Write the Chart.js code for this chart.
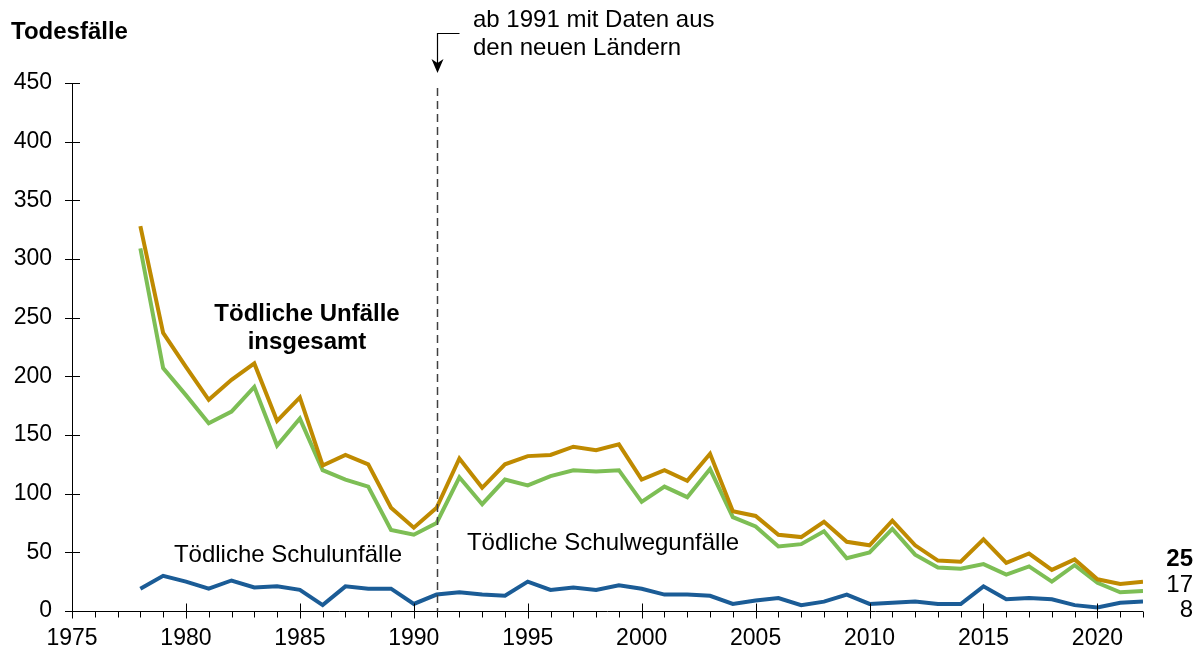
<!DOCTYPE html>
<html lang="de">
<head>
<meta charset="utf-8">
<title>Todesfälle bei Schul- und Schulwegunfällen</title>
<script src="https://cdn.jsdelivr.net/npm/chart.js@4/dist/chart.umd.min.js"></script>
<style>
  html, body { margin: 0; padding: 0; background: #fff; }
  #wrap { position: relative; width: 1203px; height: 655px; }
</style>
</head>
<body>
<div id="wrap"><canvas id="todesfaelleChart" width="1203" height="655"></canvas></div>
<script>
// Jahre 1978 bis 2022
const years = [];
for (let y = 1978; y <= 2022; y++) years.push(y);

// Tödliche Unfälle insgesamt
const insgesamt = [
  328, 237, 208, 180, 197, 211, 162, 182, 124, 133,
  125, 88, 71, 88, 130, 105, 125, 132, 133, 140,
  137, 142, 112, 120, 111, 134, 85, 81, 65, 63,
  76, 59, 56, 77, 56, 43, 42, 61, 41, 49,
  35, 44, 27, 23, 25
];
// Tödliche Schulwegunfälle
const schulweg = [
  309, 207, 184, 160, 170, 191, 141, 164, 120, 112,
  106, 69, 65, 75, 114, 91, 112, 107, 115, 120,
  119, 120, 93, 106, 97, 121, 80, 72, 55, 57,
  68, 45, 50, 70, 48, 37, 36, 40, 31, 38,
  25, 39, 24, 16, 17
];
// Tödliche Schulunfälle
const schule = [
  19, 30, 25, 19, 26, 20, 21, 18, 5, 21,
  19, 19, 6, 14, 16, 14, 13, 25, 18, 20,
  18, 22, 19, 14, 14, 13, 6, 9, 11, 5,
  8, 14, 6, 7, 8, 6, 6, 21, 10, 11,
  10, 5, 3, 7, 8
];

const yTicks = [0, 50, 100, 150, 200, 250, 300, 350, 400, 450];
const xTicks = [1975, 1980, 1985, 1990, 1995, 2000, 2005, 2010, 2015, 2020];

const FONT = '"Liberation Sans", Arial, sans-serif';

const toPoints = arr => arr.map((v, i) => ({ x: years[i], y: v }));

// Achsen, Jahresstriche, Trennlinie 1991 und Beschriftungen
const annotations = {
  id: 'annotations',
  afterDraw(chart) {
    const { ctx, chartArea: a, scales: { x, y } } = chart;
    ctx.save();
    ctx.strokeStyle = '#000';
    ctx.lineWidth = 1;

    // y-Achse mit Strichen
    ctx.beginPath();
    ctx.moveTo(a.left + 0.5, y.getPixelForValue(450));
    ctx.lineTo(a.left + 0.5, y.getPixelForValue(0));
    yTicks.forEach(v => {
      const py = Math.round(y.getPixelForValue(v)) + 0.5;
      ctx.moveTo(a.left - 7, py);
      ctx.lineTo(a.left + 8, py);
    });
    ctx.stroke();

    // x-Achse: Jahresstriche unten, Fünfjahresstriche durchgehend
    const base = Math.round(y.getPixelForValue(0)) + 0.5;
    ctx.beginPath();
    ctx.moveTo(x.getPixelForValue(1975), base);
    ctx.lineTo(x.getPixelForValue(2022), base);
    for (let yr = 1975; yr <= 2022; yr++) {
      const px = Math.round(x.getPixelForValue(yr)) + 0.5;
      if (yr % 5 === 0) {
        ctx.moveTo(px, base - 8);
        ctx.lineTo(px, base + 7);
      } else {
        ctx.moveTo(px, base);
        ctx.lineTo(px, base + 6);
      }
    }
    ctx.stroke();

    // gestrichelte Linie 1991
    const x91 = Math.round(x.getPixelForValue(1991)) + 0.5;
    ctx.strokeStyle = '#404040';
    ctx.lineWidth = 1.5;
    ctx.setLineDash([8, 5]);
    ctx.beginPath();
    ctx.moveTo(x91, 88);
    ctx.lineTo(x91, base);
    ctx.stroke();
    ctx.setLineDash([]);

    // Pfeil zur Anmerkung
    ctx.strokeStyle = '#000';
    ctx.lineWidth = 1.2;
    ctx.beginPath();
    ctx.moveTo(x91 + 22, 33.5);
    ctx.lineTo(x91, 33.5);
    ctx.lineTo(x91, 66);
    ctx.stroke();
    ctx.fillStyle = '#000';
    ctx.beginPath();
    ctx.moveTo(x91 - 6, 59);
    ctx.lineTo(x91, 73);
    ctx.lineTo(x91 + 6, 59);
    ctx.lineTo(x91, 63);
    ctx.closePath();
    ctx.fill();

    ctx.fillStyle = '#000';
    ctx.textBaseline = 'middle';

    // Achsentitel
    ctx.textAlign = 'left';
    ctx.font = 'bold 24px ' + FONT;
    ctx.fillText('Todesfälle', 11, 32);

    // Anmerkung
    ctx.font = '24px ' + FONT;
    ctx.fillText('ab 1991 mit Daten aus', 473, 20);
    ctx.fillText('den neuen Ländern', 473, 48);

    // Reihenbeschriftungen
    ctx.textAlign = 'center';
    ctx.font = 'bold 24px ' + FONT;
    ctx.fillText('Tödliche Unfälle', 307, 314);
    ctx.fillText('insgesamt', 307, 342);
    ctx.font = '24px ' + FONT;
    ctx.fillText('Tödliche Schulunfälle', 288, 555);
    ctx.fillText('Tödliche Schulwegunfälle', 603, 543);

    // Werte 2022
    ctx.textAlign = 'right';
    ctx.font = 'bold 24px ' + FONT;
    ctx.fillText(String(insgesamt[insgesamt.length - 1]), 1193, 559);
    ctx.font = '24px ' + FONT;
    ctx.fillText(String(schulweg[schulweg.length - 1]), 1193, 585);
    ctx.fillText(String(schule[schule.length - 1]), 1193, 610);

    ctx.restore();
  }
};

const config = {
  type: 'line',
  data: {
    datasets: [
      {
        label: 'Tödliche Unfälle insgesamt',
        data: toPoints(insgesamt),
        borderColor: '#BF8A00',
        borderWidth: 4,
        pointRadius: 0,
        tension: 0
      },
      {
        label: 'Tödliche Schulwegunfälle',
        data: toPoints(schulweg),
        borderColor: '#7DBE55',
        borderWidth: 4,
        pointRadius: 0,
        tension: 0
      },
      {
        label: 'Tödliche Schulunfälle',
        data: toPoints(schule),
        borderColor: '#1B5C96',
        borderWidth: 4,
        pointRadius: 0,
        tension: 0
      }
    ]
  },
  options: {
    responsive: false,
    animation: false,
    layout: { padding: { left: 0, right: 60, top: 83, bottom: 0 } },
    scales: {
      x: {
        type: 'linear',
        min: 1975,
        max: 2022,
        afterBuildTicks: scale => { scale.ticks = xTicks.map(v => ({ value: v })); },
        afterFit: scale => { scale.height = 44; },
        grid: { display: false },
        border: { display: false },
        ticks: {
          color: '#000',
          font: { family: FONT, size: 23 },
          padding: 6,
          maxRotation: 0,
          autoSkip: false,
          callback: v => String(v)
        }
      },
      y: {
        min: 0,
        max: 450,
        afterBuildTicks: scale => { scale.ticks = yTicks.map(v => ({ value: v })); },
        afterFit: scale => { scale.width = 72; },
        grid: { display: false },
        border: { display: false },
        ticks: {
          color: '#000',
          font: { family: FONT, size: 23 },
          padding: 12
        }
      }
    },
    plugins: {
      legend: { display: false },
      tooltip: { enabled: false }
    }
  },
  plugins: [annotations]
};

const todesfaelleChart = new Chart(document.getElementById('todesfaelleChart'), config);
</script>
</body>
</html>
